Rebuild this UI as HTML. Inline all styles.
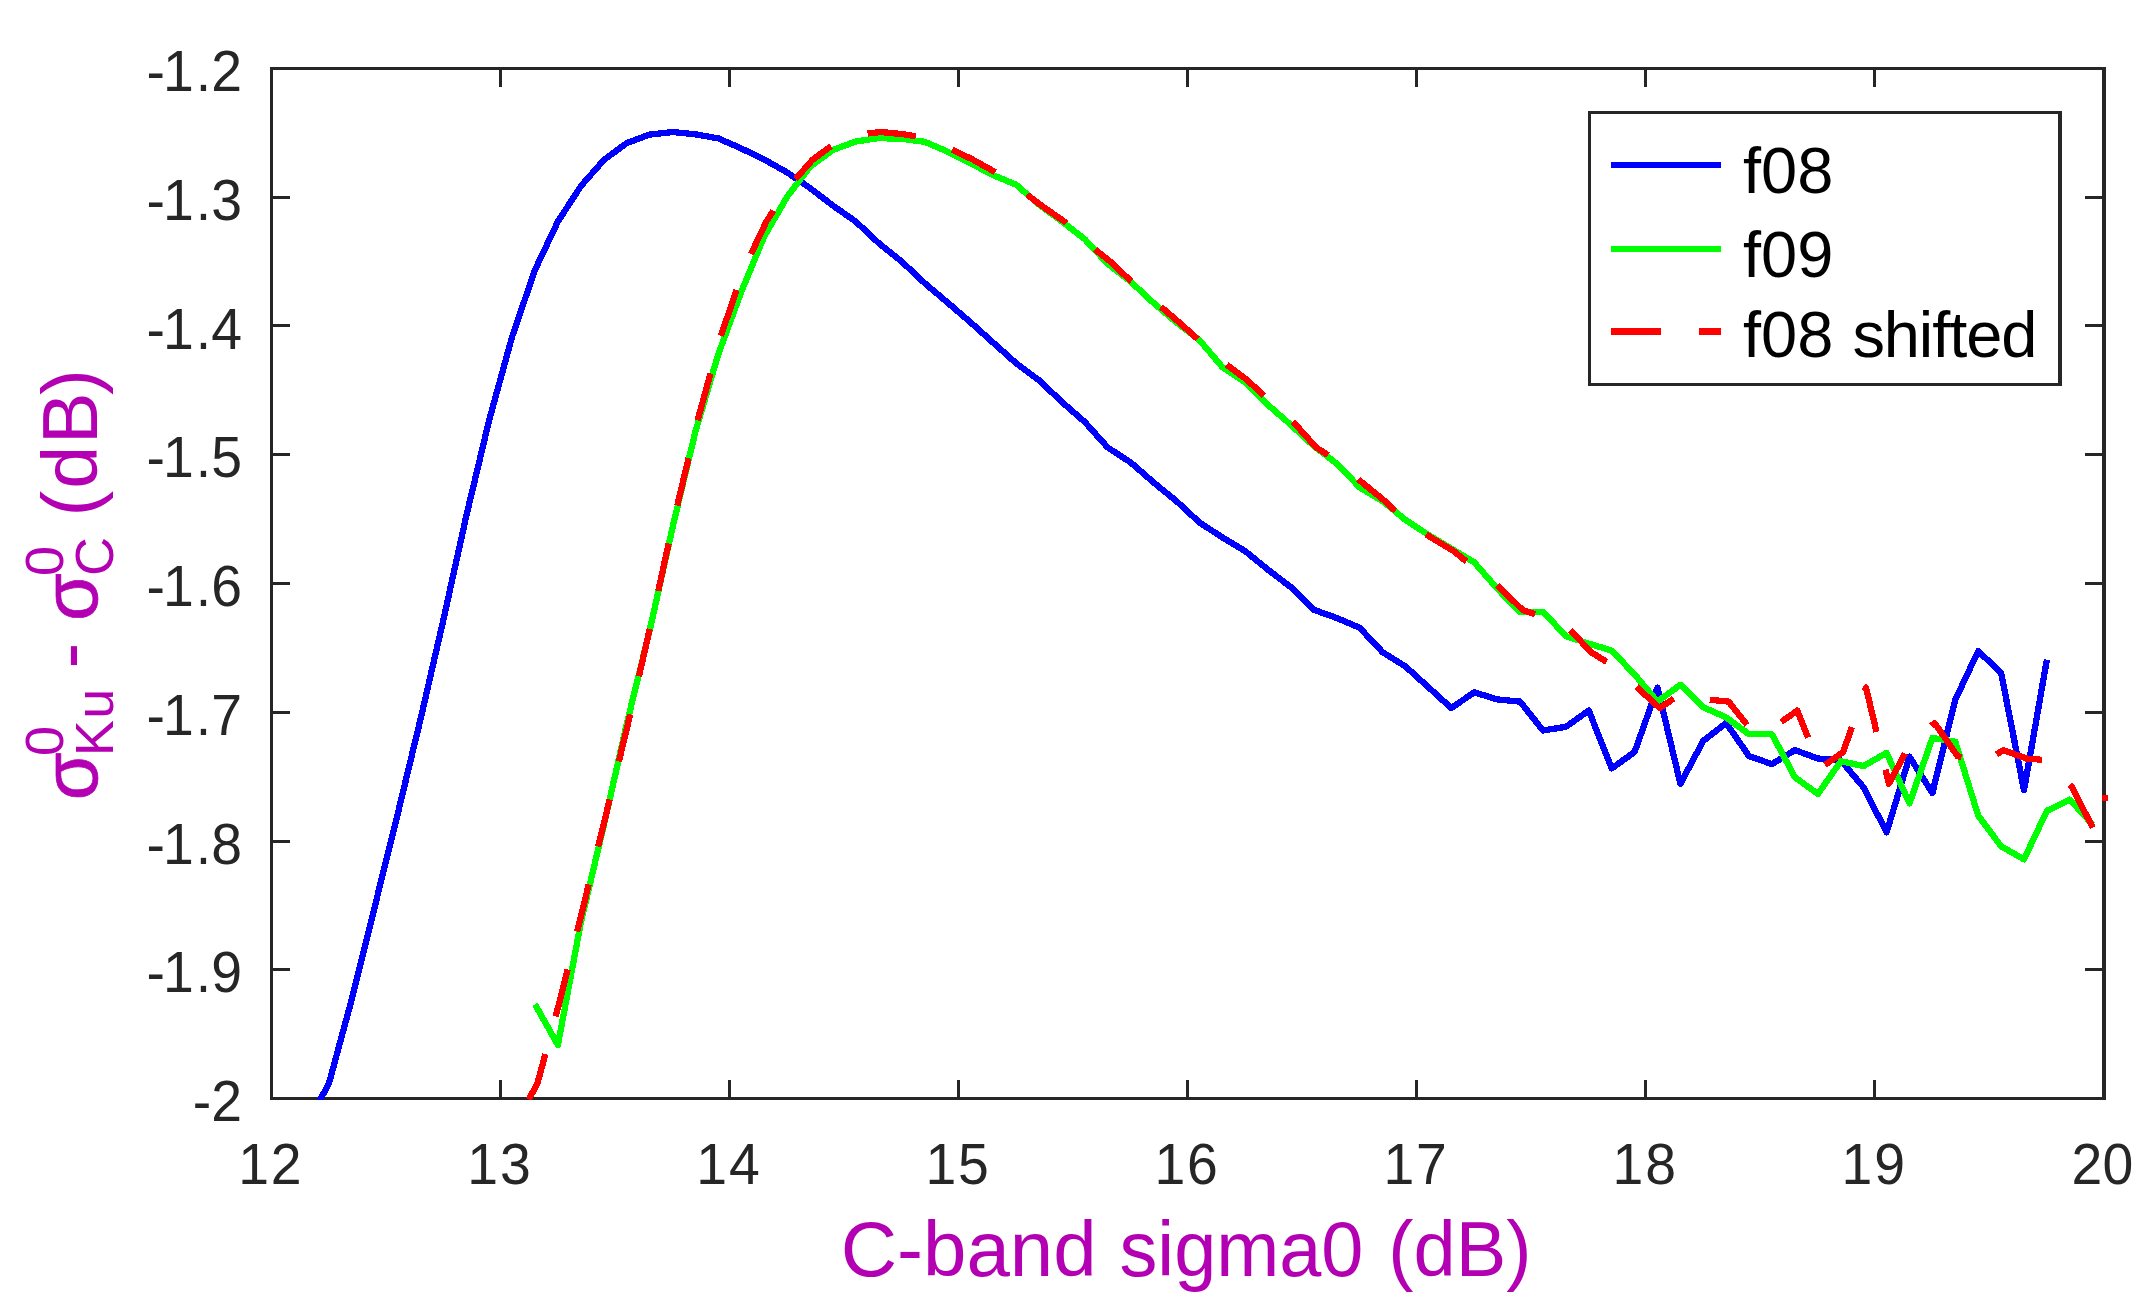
<!DOCTYPE html>
<html lang="en"><head><meta charset="utf-8"><title>sigma0 difference</title>
<style>html,body{margin:0;padding:0;background:#fff}body{width:2146px;height:1302px;overflow:hidden}svg{display:block}text{font-family:"Liberation Sans",sans-serif}</style></head><body>
<svg width="2146" height="1302" viewBox="0 0 2146 1302">
<rect width="2146" height="1302" fill="#fff"/>
<defs><clipPath id="c"><rect x="270.0" y="67.0" width="1836.0" height="1033.0"/></clipPath></defs>
<g fill="#262626" shape-rendering="crispEdges">
<rect x="270" y="67" width="1836" height="3"/>
<rect x="270" y="1097" width="1836" height="3"/>
<rect x="270" y="67" width="3" height="1033"/>
<rect x="2102" y="67" width="4" height="1033"/>
<rect x="499" y="1080" width="3" height="17"/>
<rect x="499" y="70" width="3" height="17"/>
<rect x="728" y="1080" width="3" height="17"/>
<rect x="728" y="70" width="3" height="17"/>
<rect x="957" y="1080" width="3" height="17"/>
<rect x="957" y="70" width="3" height="17"/>
<rect x="1186" y="1080" width="3" height="17"/>
<rect x="1186" y="70" width="3" height="17"/>
<rect x="1415" y="1080" width="3" height="17"/>
<rect x="1415" y="70" width="3" height="17"/>
<rect x="1644" y="1080" width="3" height="17"/>
<rect x="1644" y="70" width="3" height="17"/>
<rect x="1873" y="1080" width="3" height="17"/>
<rect x="1873" y="70" width="3" height="17"/>
<rect x="273" y="196" width="17" height="3"/>
<rect x="2085" y="196" width="17" height="3"/>
<rect x="273" y="324" width="17" height="3"/>
<rect x="2085" y="324" width="17" height="3"/>
<rect x="273" y="453" width="17" height="3"/>
<rect x="2085" y="453" width="17" height="3"/>
<rect x="273" y="582" width="17" height="3"/>
<rect x="2085" y="582" width="17" height="3"/>
<rect x="273" y="711" width="17" height="3"/>
<rect x="2085" y="711" width="17" height="3"/>
<rect x="273" y="840" width="17" height="3"/>
<rect x="2085" y="840" width="17" height="3"/>
<rect x="273" y="968" width="17" height="3"/>
<rect x="2085" y="968" width="17" height="3"/>
</g>
<g fill="#262626" font-size="55.4">
<g text-anchor="middle">
<text transform="translate(271.7 1184.4) scale(1 1.035)"><tspan dx="-1.8">1</tspan><tspan dx="1.8">2</tspan></text>
<text transform="translate(500.8 1184.4) scale(1 1.035)"><tspan dx="-1.8">1</tspan><tspan dx="1.8">3</tspan></text>
<text transform="translate(729.8 1184.4) scale(1 1.035)"><tspan dx="-1.8">1</tspan><tspan dx="1.8">4</tspan></text>
<text transform="translate(958.9 1184.4) scale(1 1.035)"><tspan dx="-1.8">1</tspan><tspan dx="1.8">5</tspan></text>
<text transform="translate(1188.0 1184.4) scale(1 1.035)"><tspan dx="-1.8">1</tspan><tspan dx="1.8">6</tspan></text>
<text transform="translate(1417.0 1184.4) scale(1 1.035)"><tspan dx="-1.8">1</tspan><tspan dx="1.8">7</tspan></text>
<text transform="translate(1646.1 1184.4) scale(1 1.035)"><tspan dx="-1.8">1</tspan><tspan dx="1.8">8</tspan></text>
<text transform="translate(1875.1 1184.4) scale(1 1.035)"><tspan dx="-1.8">1</tspan><tspan dx="1.8">9</tspan></text>
<text transform="translate(2102.4 1184.4) scale(1 1.035)">20</text>
</g><g text-anchor="end">
<text transform="translate(242.0 91.0) scale(1 1.035)">-<tspan dx="-2">1</tspan><tspan dx="2">.</tspan>2</text>
<text transform="translate(242.0 219.8) scale(1 1.035)">-<tspan dx="-2">1</tspan><tspan dx="2">.</tspan>3</text>
<text transform="translate(242.0 348.5) scale(1 1.035)">-<tspan dx="-2">1</tspan><tspan dx="2">.</tspan>4</text>
<text transform="translate(242.0 477.2) scale(1 1.035)">-<tspan dx="-2">1</tspan><tspan dx="2">.</tspan>5</text>
<text transform="translate(242.0 606.0) scale(1 1.035)">-<tspan dx="-2">1</tspan><tspan dx="2">.</tspan>6</text>
<text transform="translate(242.0 734.8) scale(1 1.035)">-<tspan dx="-2">1</tspan><tspan dx="2">.</tspan>7</text>
<text transform="translate(242.0 863.5) scale(1 1.035)">-<tspan dx="-2">1</tspan><tspan dx="2">.</tspan>8</text>
<text transform="translate(242.0 992.2) scale(1 1.035)">-<tspan dx="-2">1</tspan><tspan dx="2">.</tspan>9</text>
<text transform="translate(242.0 1121.0) scale(1 1.035)">-2</text>
</g></g>
<g clip-path="url(#c)" fill="none" stroke-width="6.3" stroke-linejoin="round" stroke-linecap="butt" shape-rendering="crispEdges">
<path stroke="#0000ff" d="M306.0 1126.0 L328.9 1083.5 L351.8 999.2 L374.7 906.9 L397.6 814.3 L420.5 719.4 L443.4 619.7 L466.3 515.9 L489.2 420.0 L512.1 336.7 L535.0 269.9 L557.9 221.5 L580.9 186.1 L603.8 160.0 L626.7 143.1 L649.6 134.6 L672.5 132.0 L695.4 134.3 L718.3 138.4 L741.2 148.4 L764.1 159.5 L787.0 172.3 L809.9 188.0 L832.8 205.5 L855.7 221.5 L878.6 243.0 L901.6 261.5 L924.5 283.0 L947.4 302.4 L970.3 322.1 L993.2 342.7 L1016.1 363.2 L1039.0 380.3 L1061.9 401.9 L1084.8 422.0 L1107.7 447.5 L1130.6 462.4 L1153.5 482.4 L1176.4 501.1 L1199.4 522.4 L1222.3 537.4 L1245.2 551.1 L1268.1 569.8 L1291.0 587.3 L1313.9 609.8 L1336.8 618.0 L1359.7 627.8 L1382.6 652.2 L1405.5 666.5 L1428.4 687.2 L1451.3 708.1 L1474.2 692.3 L1497.2 699.4 L1520.1 701.6 L1543.0 730.5 L1565.9 726.8 L1588.8 710.6 L1611.7 768.4 L1634.6 752.0 L1657.5 687.6 L1680.4 783.7 L1703.3 740.8 L1726.2 723.1 L1749.1 756.2 L1772.0 764.1 L1794.9 750.1 L1817.9 758.5 L1840.8 760.4 L1863.7 787.5 L1886.6 832.3 L1909.5 756.7 L1932.4 793.1 L1955.3 699.7 L1978.2 651.2 L2001.1 672.7 L2024.0 790.3 L2046.9 659.6"/>
<path stroke="#00ff00" d="M535.0 1004.3 L557.9 1045.0 L580.9 922.3 L603.8 825.4 L626.7 724.1 L649.6 630.6 L672.5 527.7 L695.4 431.6 L718.3 354.2 L741.2 292.0 L764.1 236.8 L787.0 196.9 L809.9 166.9 L832.8 150.0 L855.7 141.5 L878.6 138.1 L901.6 138.8 L924.5 141.8 L947.4 151.5 L970.3 163.0 L993.2 175.3 L1016.1 184.6 L1039.0 204.6 L1061.9 221.5 L1084.8 239.2 L1107.7 263.8 L1130.6 281.6 L1153.5 302.9 L1176.4 322.4 L1199.4 340.0 L1222.3 367.0 L1245.2 382.4 L1268.1 405.0 L1291.0 425.0 L1313.9 446.2 L1336.8 463.7 L1359.7 487.4 L1382.6 501.1 L1405.5 519.9 L1428.4 534.9 L1451.3 548.6 L1474.2 562.3 L1497.2 588.6 L1520.1 612.3 L1543.0 611.8 L1565.9 636.0 L1588.8 643.6 L1611.7 650.6 L1634.6 674.5 L1657.5 701.6 L1680.4 684.8 L1703.3 707.2 L1726.2 717.5 L1749.1 734.3 L1772.0 734.3 L1794.9 777.2 L1817.9 794.0 L1840.8 761.3 L1863.7 766.0 L1886.6 752.9 L1909.5 803.3 L1932.4 738.0 L1955.3 741.7 L1978.2 815.5 L2001.1 846.3 L2024.0 859.3 L2046.9 810.8 L2069.8 799.6 L2092.7 824.8"/>
<path stroke="#ff0000" stroke-dasharray="48.6 38.95" d="M528.8 1099.4 L537.4 1083.5 L560.3 999.2 L583.2 906.9 L606.1 814.3 L629.0 719.4 L651.9 619.7 L674.8 515.9 L697.7 420.0 L720.6 336.7 L743.5 269.9 L766.4 221.5 L789.4 186.1 L812.3 160.0 L835.2 143.1 L858.1 134.6 L881.0 132.0 L903.9 134.3 L926.8 138.4 L949.7 148.4 L972.6 159.5 L995.5 172.3 L1018.4 188.0 L1041.3 205.5 L1064.2 221.5 L1087.1 243.0 L1110.1 261.5 L1133.0 283.0 L1155.9 302.4 L1178.8 322.1 L1201.7 342.7 L1224.6 363.2 L1247.5 380.3 L1270.4 401.9 L1293.3 422.0 L1316.2 447.5 L1339.1 462.4 L1362.0 482.4 L1384.9 501.1 L1407.9 522.4 L1430.8 537.4 L1453.7 551.1 L1476.6 569.8 L1499.5 587.3 L1522.4 609.8 L1545.3 618.0 L1568.2 627.8 L1591.1 652.2 L1614.0 666.5 L1636.9 687.2 L1659.8 708.1 L1682.7 692.3 L1705.7 699.4 L1728.6 701.6 L1751.5 730.5 L1774.4 726.8 L1797.3 710.6 L1820.2 768.4 L1843.1 752.0 L1866.0 687.6 L1888.9 783.7 L1911.8 740.8 L1934.7 723.1 L1957.6 756.2 L1980.5 764.1 L2003.4 750.1 L2026.4 758.5 L2049.3 760.4 L2072.2 787.5 L2095.1 832.3 L2101.5 811.1"/>
</g>
<rect x="2102" y="795" width="6" height="6" fill="#ff0000" shape-rendering="crispEdges"/>
<g shape-rendering="crispEdges">
<rect x="1588" y="111" width="474" height="275" fill="#262626"/>
<rect x="1591" y="114" width="467" height="269" fill="#fff"/>
<rect x="1611" y="162" width="110" height="6" fill="#0000ff"/>
<rect x="1611" y="246" width="110" height="6" fill="#00ff00"/>
<rect x="1611" y="328" width="50" height="7" fill="#ff0000"/>
<rect x="1699" y="328" width="22" height="7" fill="#ff0000"/>
</g>
<g fill="#000" font-size="65.0">
<text x="1743" y="193">f08</text>
<text x="1743" y="276.8">f09</text>
<text x="1743" y="357">f08 <tspan letter-spacing="-1.1" dx="1">shifted</tspan></text>
</g>
<text fill="#b200b2" font-size="77.5" y="1275.9"><tspan x="840.7" textLength="256" lengthAdjust="spacingAndGlyphs">C-band</tspan> <tspan x="1119.5" textLength="243.9" lengthAdjust="spacingAndGlyphs">sigma0</tspan> <tspan x="1388.3" textLength="143.1" lengthAdjust="spacingAndGlyphs">(dB)</tspan></text>
<g transform="translate(97 797.5) rotate(-90)"><text fill="#b200b2" font-size="77.5"><tspan x="-2.8" y="0" stroke="#b200b2" stroke-width="0.7">σ</tspan><tspan x="41.6" y="-34.4" font-size="54.0">0</tspan><tspan x="41.2" y="16.3" font-size="54.0">K</tspan><tspan x="78.8" y="16.3" font-size="54.0">u</tspan> <tspan x="129" y="-2">-</tspan> <tspan x="176.4" y="0" stroke="#b200b2" stroke-width="0.7">σ</tspan><tspan x="221.4" y="-34.4" font-size="54.0">0</tspan><tspan x="221.5" y="16.3" font-size="54.0">C</tspan> <tspan x="281" y="0">(</tspan><tspan x="308.8">d</tspan><tspan x="353.4">B</tspan><tspan x="402.4">)</tspan></text></g>
</svg></body></html>
